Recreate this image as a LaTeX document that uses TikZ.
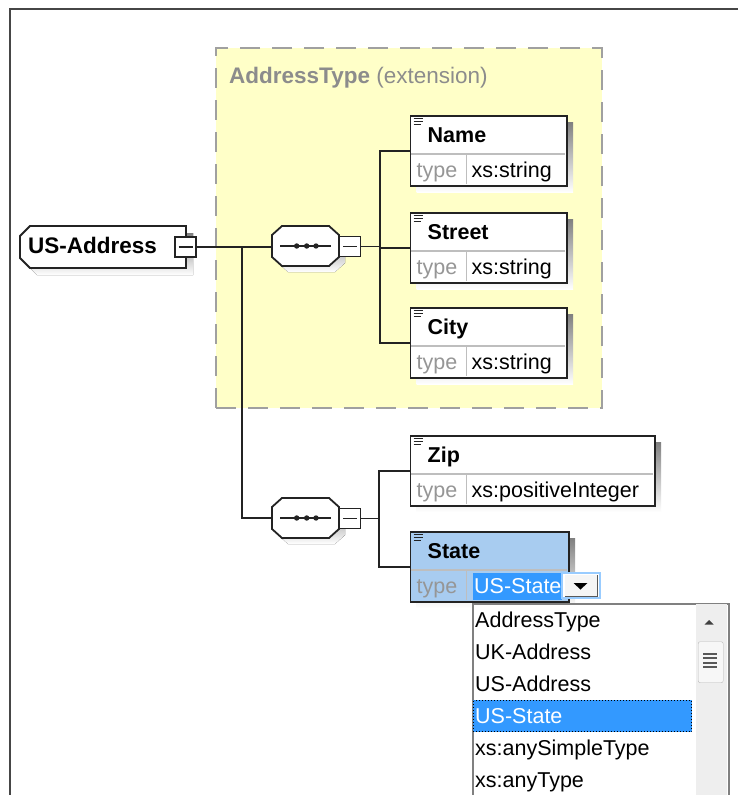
\documentclass[tikz,border=0pt]{standalone}
\usepackage{fontspec}
\setmainfont{Liberation Sans}
\definecolor{ybg}{RGB}{255,255,200}
\definecolor{ydash}{RGB}{160,160,160}
\definecolor{shade}{RGB}{192,192,192}
\definecolor{selblue}{RGB}{51,153,255}
\definecolor{stateblue}{RGB}{168,204,240}
\definecolor{edge}{RGB}{35,35,35}
\definecolor{divider}{RGB}{190,190,190}
\definecolor{typegray}{RGB}{150,150,150}
\definecolor{labgray}{RGB}{140,140,140}
\definecolor{framegray}{RGB}{70,70,70}
\tikzset{
  every node/.style={font=\fontsize{21.5pt}{25pt}\selectfont},
  conn/.style={draw=edge, line width=1.8pt},
  minusbox/.style={draw=edge, fill=white, line width=1.7pt, minimum width=21pt, minimum height=20pt, inner sep=0pt},
  txt/.style={anchor=base west, inner sep=0pt},
}
% minus box: id, cx, cy
\newcommand\xminus[3]{%
  \node[minusbox] (#1) at (#2,#3) {};
  \draw[edge, line width=1.6pt] (#2-7,#3) -- (#2+7,#3);
}
% sequence compositor: id, cx, cy
\newcommand\xseq[3]{%
  \fill[shade] (#2-23.5+6,#3-20+6) -- (#2+23.5+6,#3-20+6) -- (#2+33.5+6,#3-11+6) -- (#2+33.5+6,#3+11+6) -- (#2+23.5+6,#3+20+6) -- (#2-23.5+6,#3+20+6) -- (#2-33.5+6,#3+11+6) -- (#2-33.5+6,#3-11+6) -- cycle;
  \filldraw[fill=white, draw=edge, line width=1.8pt] (#2-23.5,#3-20) -- (#2+23.5,#3-20) -- (#2+33.5,#3-11) -- (#2+33.5,#3+11) -- (#2+23.5,#3+20) -- (#2-23.5,#3+20) -- (#2-33.5,#3+11) -- (#2-33.5,#3-11) -- cycle;
  \node[inner sep=0pt, minimum width=67pt, minimum height=40pt] (#1) at (#2,#3) {};
  \draw[edge, line width=1.7pt] (#2-25.5,#3) -- (#2+25.5,#3);
  \fill[edge] (#2-8.8,#3) circle[radius=2.7pt] (#2+1.2,#3) circle[radius=2.7pt] (#2+10.5,#3) circle[radius=2.7pt];
  \xminus{#1-minus}{#2+44.5}{#3+0.5}
}
% element: id, x left, y top, width, label, value, fill
\newcommand\xelem[7]{%
  \fill[shade] (#2+7,#3+7) rectangle ++(#4,70);
  \node[draw=edge, line width=1.8pt, fill=#7, minimum width=#4pt, minimum height=70pt, inner sep=0pt, anchor=north west] (#1) at (#2,#3) {};
  \draw[divider, line width=1.3pt] (#2+1,#3+39) -- (#2+#4-1,#3+39) (#2+57,#3+39) -- (#2+57,#3+69);
  \draw[edge, line width=1.1pt] (#2+4,#3+3.5) -- ++(9,0) (#2+4,#3+6.5) -- ++(9,0) (#2+4,#3+9.5) -- ++(7,0);
  \node[txt, font=\fontsize{21.5pt}{25pt}\selectfont\bfseries] (#1-label) at (#2+18,#3+27) {#5};
  \node[txt, text=typegray] (#1-type) at (#2+7,#3+62) {type};
  \node[txt] (#1-value) at (#2+62,#3+62) {#6};
}
\begin{document}
\begin{tikzpicture}[x=1pt,y=-1pt]
\useasboundingbox[fill=white] (0,0) rectangle (738,795);
% outer frame
\draw[framegray, line width=2.5pt] (10,797) -- (10,9) -- (740,9);
% extension box
\node[draw=ydash, fill=ybg, dash pattern=on 20pt off 12pt, line width=2pt, minimum width=386pt, minimum height=360pt, inner sep=0pt] (ext) at (409,228) {};
\node[txt, text=labgray, font=\fontsize{22.5pt}{26pt}\selectfont] (extlabel) at (229,83) {\textbf{AddressType} (extension)};
% US-Address
\fill[shade] (27,243) -- (37,233) -- (193,233) -- (193,275) -- (37,275) -- (27,265) -- cycle;
\filldraw[fill=white, draw=edge, line width=1.8pt] (20,236) -- (30,226) -- (186,226) -- (186,268) -- (30,268) -- (20,258) -- cycle;
\node[inner sep=0pt, minimum width=166pt, minimum height=42pt] (usa) at (103,247) {};
\node[txt, font=\fontsize{22.5pt}{26pt}\selectfont\bfseries] (usalabel) at (28,253) {US-Address};
\xminus{usaMinus}{185.5}{247}
% sequences
\xseq{seq1}{305.5}{246}
\xseq{seq2}{305.5}{518}
% elements
\xelem{name}{409.5}{115}{156.5}{Name}{xs:string}{white}
\xelem{street}{409.5}{212}{156.5}{Street}{xs:string}{white}
\xelem{city}{409.5}{307}{156.5}{City}{xs:string}{white}
\xelem{zip}{409.5}{435}{244.5}{Zip}{xs:positiveInteger}{white}
\xelem{state}{409.5}{531}{158.5}{State}{}{stateblue}
% connectors
\coordinate (j1) at (242,247);
\coordinate (bus1) at (380,0);
\coordinate (bus2) at (379,0);
\draw[conn] (usaMinus.east) -- (usaMinus.east -| seq1.west);
\draw[conn] (j1) |- (seq2.west);
\draw[conn] (seq1-minus.east) -- (seq1-minus.east -| bus1);
\draw[conn] (name.west) -- (name.west -| bus1) |- (city.west);
\draw[conn] (street.west) -- (street.west -| bus1);
\draw[conn] (seq2-minus.east) -- (seq2-minus.east -| bus2);
\draw[conn] (zip.west) -- (zip.west -| bus2) |- (state.west);
% State value selection and drop-down button
\fill[selblue] (473,573) rectangle (562,600);
\node[txt, text=white] (statevalue) at (474,593) {US-State};
\draw[selblue!50, line width=1.2pt, fill=white] (562,573) rectangle (600,598);
\node[draw=none, fill=gray!8, minimum width=32pt, minimum height=21pt, inner sep=0pt] (dropbtn) at (581,585.5) {};
\draw[gray!70!black, line width=1.3pt] (dropbtn.south west) -- (dropbtn.south east) -- (dropbtn.north east);
\fill[black] (573.5,583) -- (587.5,583) -- (580.5,589.5) -- cycle;
% drop-down list
\node[draw=gray, line width=1.5pt, fill=white, anchor=north west, minimum width=256pt, minimum height=200pt, inner sep=0pt] (list) at (472,603) {};
\fill[gray!13] (695.5,604) rectangle (727,800);
\fill[black!75] (704.5,624.5) -- (713.5,624.5) -- (709,620) -- cycle;
\node[draw=gray!55, fill=gray!6, rounded corners=2pt, minimum width=25pt, minimum height=41pt, inner sep=0pt, anchor=north west] (thumb) at (698,641.5) {};
\draw[black!65, line width=1.3pt] (703,654) -- (717,654) (703,658) -- (717,658) (703,663) -- (717,663) (703,667) -- (717,667);
\fill[selblue] (473,700) rectangle (692,732);
\draw[black, dotted, line width=1pt] (473.5,700.5) rectangle (691.5,731.5);
\node[txt] (it1) at (475,627) {AddressType};
\node[txt] (it2) at (475,659) {UK-Address};
\node[txt] (it3) at (475,691) {US-Address};
\node[txt, text=white] (it4) at (475,723) {US-State};
\node[txt] (it5) at (475,755) {xs:anySimpleType};
\node[txt] (it6) at (475,787) {xs:anyType};
\end{tikzpicture}
\end{document}
